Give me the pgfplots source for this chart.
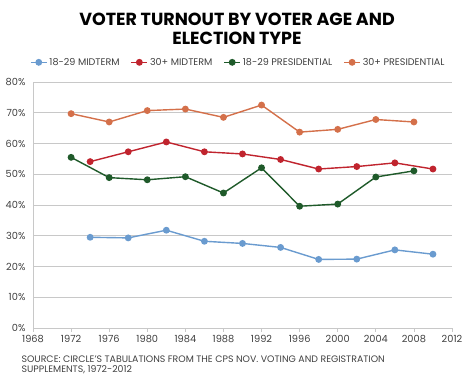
\documentclass[border=0pt]{standalone}
\usepackage{fontspec}
\setmainfont{Poppins}
\usepackage{pgfplots}
\pgfplotsset{compat=1.18}
\definecolor{cblue}{HTML}{6A9BCF}
\definecolor{cred}{HTML}{C0242E}
\definecolor{cgreen}{HTML}{1F5A2A}
\definecolor{corange}{HTML}{D4704A}
\definecolor{cgrid}{HTML}{C8C8C8}
\definecolor{ctext}{HTML}{404040}
\begin{document}
\begin{tikzpicture}[x=1pt,y=1pt]
\useasboundingbox (-33,-51) rectangle (441,328);
\begin{axis}[
  scale only axis, width=419pt, height=246pt,
  xmin=1968, xmax=2012, ymin=0, ymax=80,
  xtick={1968,1972,...,2012},
  ytick={0,10,...,80},
  yticklabels={0\%,10\%,20\%,30\%,40\%,50\%,60\%,70\%,80\%},
  /pgf/number format/1000 sep={},
  /pgf/number format/assume math mode=true,
  axis lines*=left,
  axis line style={cgrid, line width=0.8pt},
  x axis line style={-},
  y axis line style={-},
  ymajorgrids, grid style={cgrid, line width=0.8pt},
  ytick style={draw=none},
  xtick style={cgrid, line width=0.8pt},
  tick align=outside, major tick length=4pt,
  ticklabel style={font=\fontsize{9.8}{11}\selectfont, text=ctext},
  legend columns=4,
  legend style={draw=none, fill=none, at={(0.49,1.08)}, anchor=center,
    font=\fontsize{9.6}{11}\selectfont, text=ctext,
    /tikz/every even column/.append style={column sep=9pt}},
  legend image code/.code={
    \draw[#1] (0pt,0pt) -- (16pt,0pt);
    \draw[#1, only marks] plot coordinates {(8pt,0pt)};
  },
  every axis plot/.append style={line width=1.4pt, mark=*, mark size=2.7pt},
]
\addplot[cblue, mark options={fill=cblue}] coordinates {
(1974,29.5)(1978,29.3)(1982,31.8)(1986,28.2)(1990,27.5)(1994,26.2)(1998,22.3)(2002,22.4)(2006,25.4)(2010,24.0)};
\addlegendentry{18-29 MIDTERM}
\addplot[cred, mark options={fill=cred}] coordinates {
(1974,54.1)(1978,57.3)(1982,60.5)(1986,57.3)(1990,56.6)(1994,54.8)(1998,51.7)(2002,52.5)(2006,53.7)(2010,51.7)};
\addlegendentry{30+ MIDTERM}
\addplot[cgreen, mark options={fill=cgreen}] coordinates {
(1972,55.5)(1976,48.9)(1980,48.2)(1984,49.2)(1988,43.9)(1992,52.1)(1996,39.6)(2000,40.3)(2004,49.1)(2008,51.1)};
\addlegendentry{18-29 PRESIDENTIAL}
\addplot[corange, mark options={fill=corange}] coordinates {
(1972,69.7)(1976,67.0)(1980,70.7)(1984,71.2)(1988,68.5)(1992,72.5)(1996,63.7)(2000,64.6)(2004,67.8)(2008,67.0)};
\addlegendentry{30+ PRESIDENTIAL}
\end{axis}
\node[font=\bfseries\fontsize{17.5}{19}\selectfont, align=center, text=black] at (204,299) {VOTER TURNOUT BY VOTER AGE AND\\ELECTION TYPE};
\node[font=\fontsize{9.4}{10.5}\selectfont, align=left, text=ctext, anchor=north west] at (-15,-24) {SOURCE: CIRCLE'S TABULATIONS FROM THE CPS NOV. VOTING AND REGISTRATION\\SUPPLEMENTS, 1972-2012};
\end{tikzpicture}
\end{document}
